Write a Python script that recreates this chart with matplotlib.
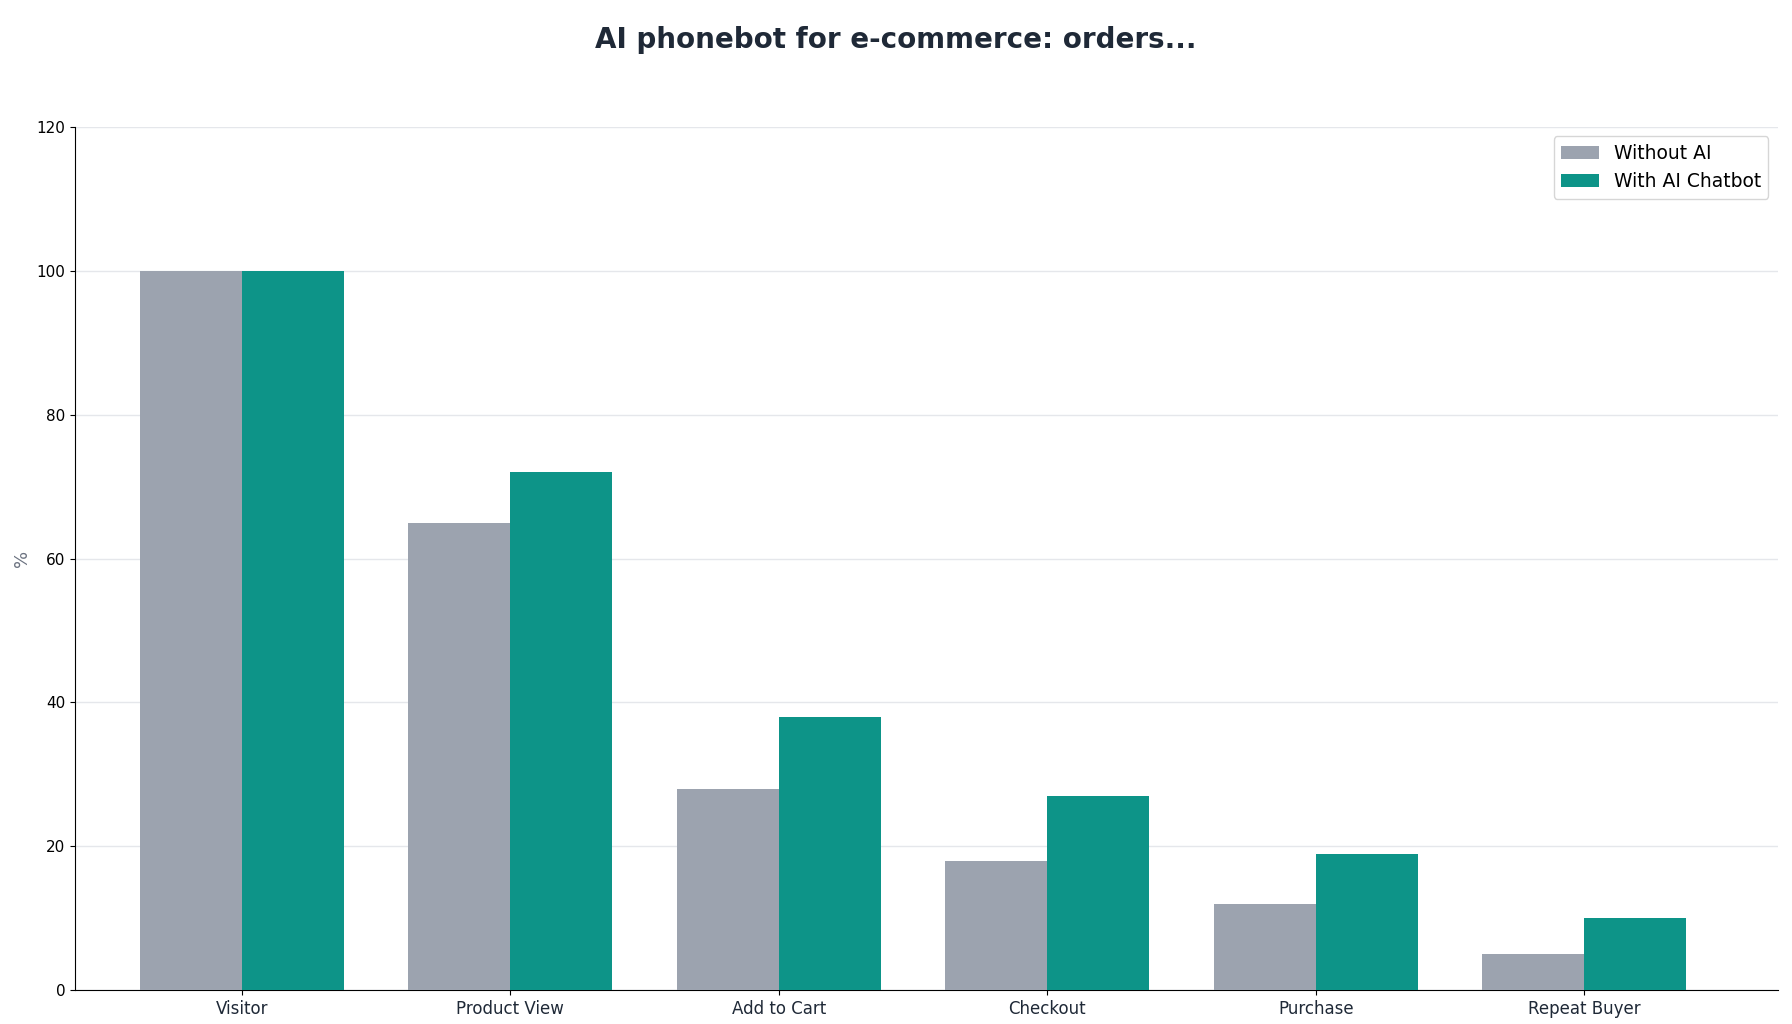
import matplotlib
matplotlib.use("Agg")
import matplotlib.pyplot as plt
import numpy as np

categories = ["Visitor", "Product View", "Add to Cart", "Checkout", "Purchase", "Repeat Buyer"]
without_ai = [100, 65, 28, 18, 12, 5]
with_ai = [100, 72, 38, 27, 19, 10]

fig = plt.figure(figsize=(17.92, 10.24), dpi=100)
ax = fig.add_axes([0.042, 0.033, 0.95, 0.843])
x = np.arange(len(categories))
w = 0.38
ax.bar(x - w/2, without_ai, w, color="#9ca3af", label="Without AI", zorder=3)
ax.bar(x + w/2, with_ai, w, color="#0d9488", label="With AI Chatbot", zorder=3)
ax.set_xticks(x)
ax.set_xticklabels(categories, fontsize=12, color="#1f2937")
ax.set_ylim(0, 120)
ax.set_yticks(range(0, 121, 20))
ax.tick_params(axis="y", labelsize=11)
ax.set_xlim(-0.62, 5.72)
ax.set_ylabel("%", fontsize=13, color="#6b7280")
ax.grid(axis="y", color="#e5e7eb", linewidth=1, zorder=0)
for s in ["top", "right"]:
    ax.spines[s].set_visible(False)
ax.legend(loc="upper right", fontsize=13.5)
fig.suptitle("AI phonebot for e-commerce: orders...", fontsize=20, fontweight="bold", color="#1f2937", y=0.975)
fig.savefig("out.png", dpi=100)
